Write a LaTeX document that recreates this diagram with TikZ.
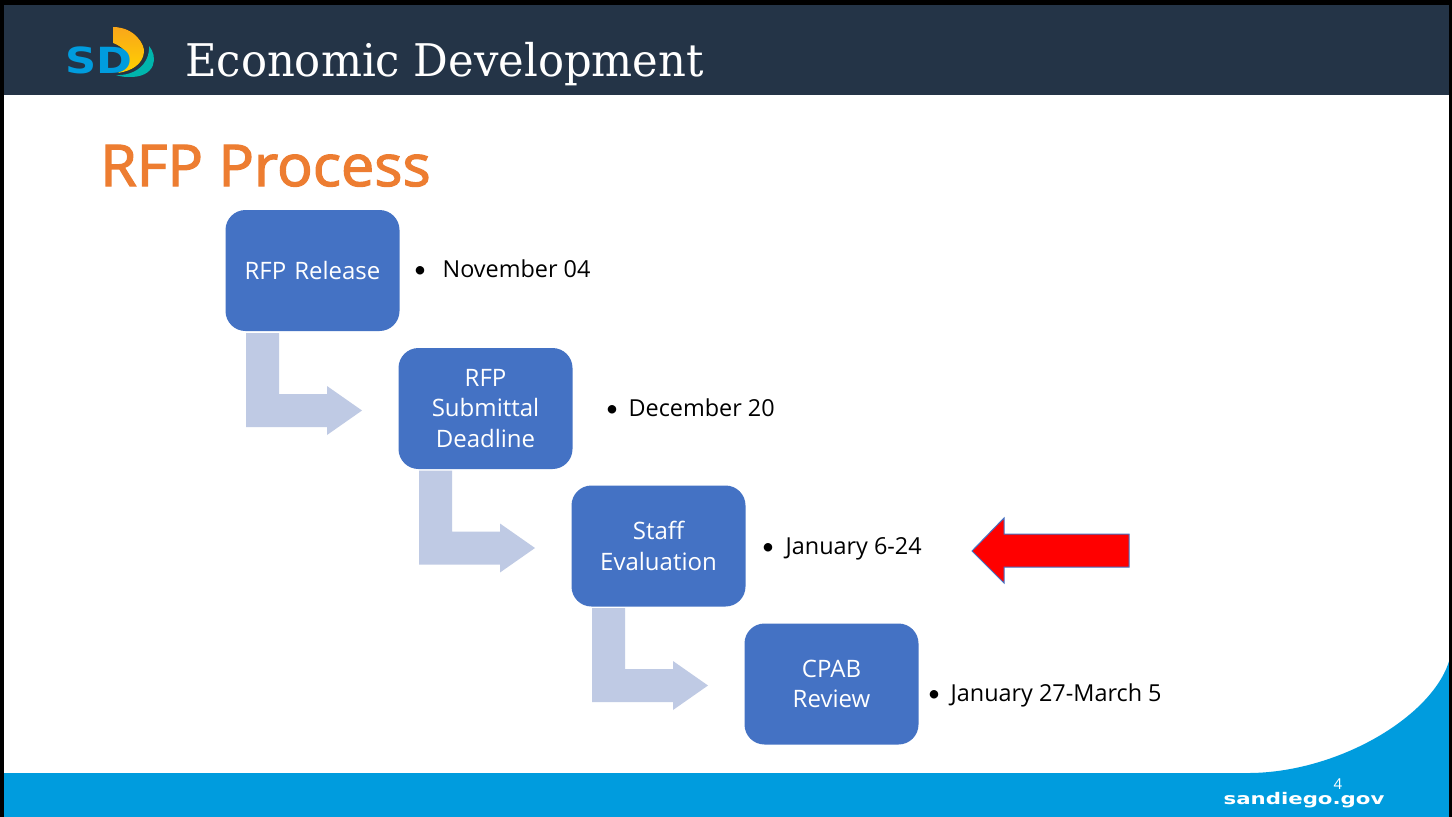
\documentclass[tikz,border=0pt]{standalone}
\usepackage{fontspec}
\setmainfont{Open Sans}
\newfontfamily\titlefont[FakeStretch=0.962]{DejaVu Serif}
\newfontfamily\headfont[FakeBold=2.2,FakeStretch=1.03]{Open Sans}
\newfontfamily\logofont[FakeStretch=1.2]{DejaVu Sans}
\newfontfamily\webfont[FakeStretch=1.33]{DejaVu Sans}
\newfontfamily\bulletfont{Carlito}
\newcommand{\dotmark}{{\bulletfont\fontsize{24}{24}\selectfont •}}
\definecolor{navy}{HTML}{243447}
\definecolor{sky}{HTML}{009CDE}
\definecolor{boxblue}{HTML}{4472C4}
\definecolor{pale}{HTML}{BFCAE4}
\definecolor{heading}{HTML}{ED7D31}
\definecolor{sailtop}{HTML}{F9A61A}
\definecolor{sailbot}{HTML}{FFD200}
\definecolor{wave}{HTML}{00B5AD}
\tikzset{
 stepbox/.style={fill=boxblue,rounded corners=20pt,minimum width=174pt,minimum height=121pt,text width=150pt,align=center,text=white,font=\fontsize{24}{30.5}\selectfont,inner sep=0pt},
 datelabel/.style={anchor=base west,inner sep=0pt,font=\fontsize{23.4}{29}\selectfont},
 bent/.style={fill=pale}
}
\begin{document}
\begin{tikzpicture}[x=1pt,y=-1pt]
\useasboundingbox (0,0) rectangle (1452,817);
\fill[white] (0,0) rectangle (1452,817);
% footer
\fill[sky] (0,773) -- (1250,773) .. controls (1340,772) and (1435,715) .. (1450,658) -- (1452,658) -- (1452,817) -- (0,817) -- cycle;
% header
\fill[navy] (0,0) rectangle (1452,95);
\draw[black,line width=10pt] (-2,0) -- (1454,0);
\draw[black,line width=7pt] (0,0) -- (0,817);
\draw[black,line width=7pt] (1452,0) -- (1452,817);
% logo
\fill[wave] (116,75) .. controls (135,76) and (150,64) .. (149,46) .. controls (158,56) and (157,78) .. (128,77) .. controls (123,77) and (119,76) .. (116,75) -- cycle;
\fill[top color=sailtop,bottom color=sailbot] (113,27) .. controls (135,27) and (145,45) .. (144,52) .. controls (143,64) and (132,71) .. (118,73) .. controls (130,66) and (132,50) .. (113,43) -- cycle;
\node[anchor=base,inner sep=0pt,text=sky,font=\logofont\bfseries\fontsize{36}{36}\selectfont] (logo) at (99,73) {SD};
\node[anchor=base west,inner sep=0pt,text=white,font=\titlefont\fontsize{45}{45}\selectfont] (title) at (185,76) {Economic Development};
\node[anchor=base west,inner sep=0pt,text=heading,font=\headfont\fontsize{57.5}{58}\selectfont] (head) at (100,186) {RFP Process};
% arrows
\foreach \dx/\dy in {0/0,173/137.5,346/275}{
 \fill[bent,shift={(\dx,\dy)}] (246,333) -- (279,333) -- (279,394) -- (327,394) -- (327,386) -- (362,410.5) -- (327,435) -- (327,427) -- (246,427) -- cycle;
}
\fill[red,draw=boxblue,line width=1pt] (1129,534) -- (1004,534) -- (1004,518) -- (972,551) -- (1004,583) -- (1004,567) -- (1129,567) -- cycle;
% boxes
\node[stepbox] (a) at (312.5,270.5) {RFP Release};
\node[stepbox] (b) at (485.5,408.5) {RFP\\Submittal\\Deadline};
\node[stepbox] (c) at (658.5,546) {Staff\\Evaluation};
\node[stepbox] (d) at (831.5,684) {CPAB\\Review};
\node[datelabel] (da) at (414,277) {\dotmark\hspace{16.5pt}November 04};
\node[datelabel] (db) at (606,416) {\dotmark\hspace{10.5pt}December 20};
\node[datelabel] (dc) at (762,554) {\dotmark\hspace{11.5pt}January 6-24};
\node[datelabel] (dd) at (928,701) {\dotmark\hspace{10.5pt}January 27-March 5};
% footer text
\node[anchor=base,inner sep=0pt,text=white,font=\webfont\bfseries\fontsize{16}{16}\selectfont] (web) at (1304,804) {sandiego.gov};
\node[inner sep=0pt,text=white,font=\fontsize{15}{15}\selectfont] (num) at (1338,784.5) {4};
\end{tikzpicture}
\end{document}
